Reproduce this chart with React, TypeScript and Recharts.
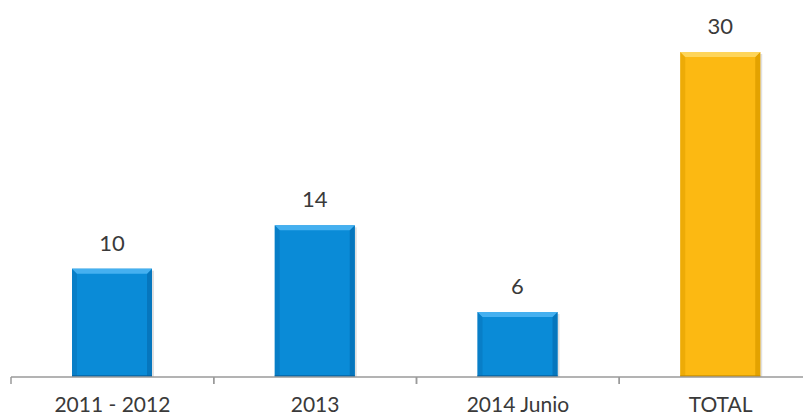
import { BarChart, Bar, XAxis, YAxis, Cell, LabelList } from "recharts";

const categories = ["2011 - 2012", "2013", "2014 Junio", "TOTAL"];
const values = [10, 14, 6, 30];
const barKinds = ["blue", "blue", "blue", "gold"];

const CHART_W = 822;
const CHART_H = 416;
const MARGIN = { top: 52, right: 0, left: 11, bottom: 0 };
const BAND = (CHART_W - MARGIN.left - MARGIN.right) / categories.length;

const PALETTE: Record<string, { main: string; top: string; side: string; bottom: string }> = {
  blue: { main: "#0a8bd7", top: "#45b0f0", side: "#0676bd", bottom: "#05609c" },
  gold: { main: "#fcb912", top: "#fed55a", side: "#e3a200", bottom: "#c98f00" },
};

const data = categories.map((name, i) => ({ name, value: values[i], kind: barKinds[i] }));

function BevelBar(props: any) {
  const { x, y, width, height, payload } = props;
  if (!height || height <= 0) return null;
  const c = PALETTE[payload.kind];
  const b = 5;
  return (
    <g>
      <rect x={x + 2} y={y + 2} width={width} height={height - 2} fill="rgba(0,0,0,0.12)" />
      <rect x={x} y={y} width={width} height={height} fill={c.main} />
      <polygon
        points={`${x},${y} ${x + b},${y + b} ${x + b},${y + height} ${x},${y + height}`}
        fill={c.side}
        opacity={0.6}
      />
      <polygon
        points={`${x + width},${y} ${x + width - b},${y + b} ${x + width - b},${y + height} ${x + width},${y + height}`}
        fill={c.side}
      />
      <polygon
        points={`${x},${y} ${x + width},${y} ${x + width - b},${y + b} ${x + b},${y + b}`}
        fill={c.top}
      />
      <rect x={x} y={y + height - 2} width={width} height={2} fill={c.bottom} opacity={0.7} />
    </g>
  );
}

function CategoryTick(props: any) {
  const { x, y, payload } = props;
  const left = x - BAND / 2;
  const right = x + BAND / 2;
  return (
    <g>
      <line x1={left} y1={y} x2={left} y2={y + 7} stroke="#9a9a9a" strokeWidth={1.5} />
      <line x1={right} y1={y} x2={right} y2={y + 7} stroke="#9a9a9a" strokeWidth={1.5} />
      <text
        x={x}
        y={y + 35}
        textAnchor="middle"
        fill="#3a3a3a"
        fontSize={21}
        fontFamily="Lato, 'Open Sans', sans-serif"
      >
        {payload.value}
      </text>
    </g>
  );
}

export default function App() {
  return (
    <div
      style={{
        position: "absolute",
        left: 0,
        top: 0,
        width: 803,
        height: 416,
        overflow: "hidden",
        background: "#fff",
      }}
    >
      <BarChart width={CHART_W} height={CHART_H} data={data} margin={MARGIN}>
        <XAxis
          dataKey="name"
          axisLine={{ stroke: "#9a9a9a", strokeWidth: 1.5 }}
          tickLine={false}
          tickSize={0}
          tickMargin={0}
          height={39}
          interval={0}
          tick={<CategoryTick />}
        />
        <YAxis hide domain={[0, 30]} />
        <Bar dataKey="value" barSize={80} isAnimationActive={false} shape={<BevelBar />}>
          {data.map((d, i) => (
            <Cell key={i} fill={PALETTE[d.kind].main} />
          ))}
          <LabelList
            dataKey="value"
            position="top"
            offset={18}
            fill="#3a3a3a"
            fontSize={22}
            fontFamily="Lato, 'Open Sans', sans-serif"
          />
        </Bar>
      </BarChart>
    </div>
  );
}
